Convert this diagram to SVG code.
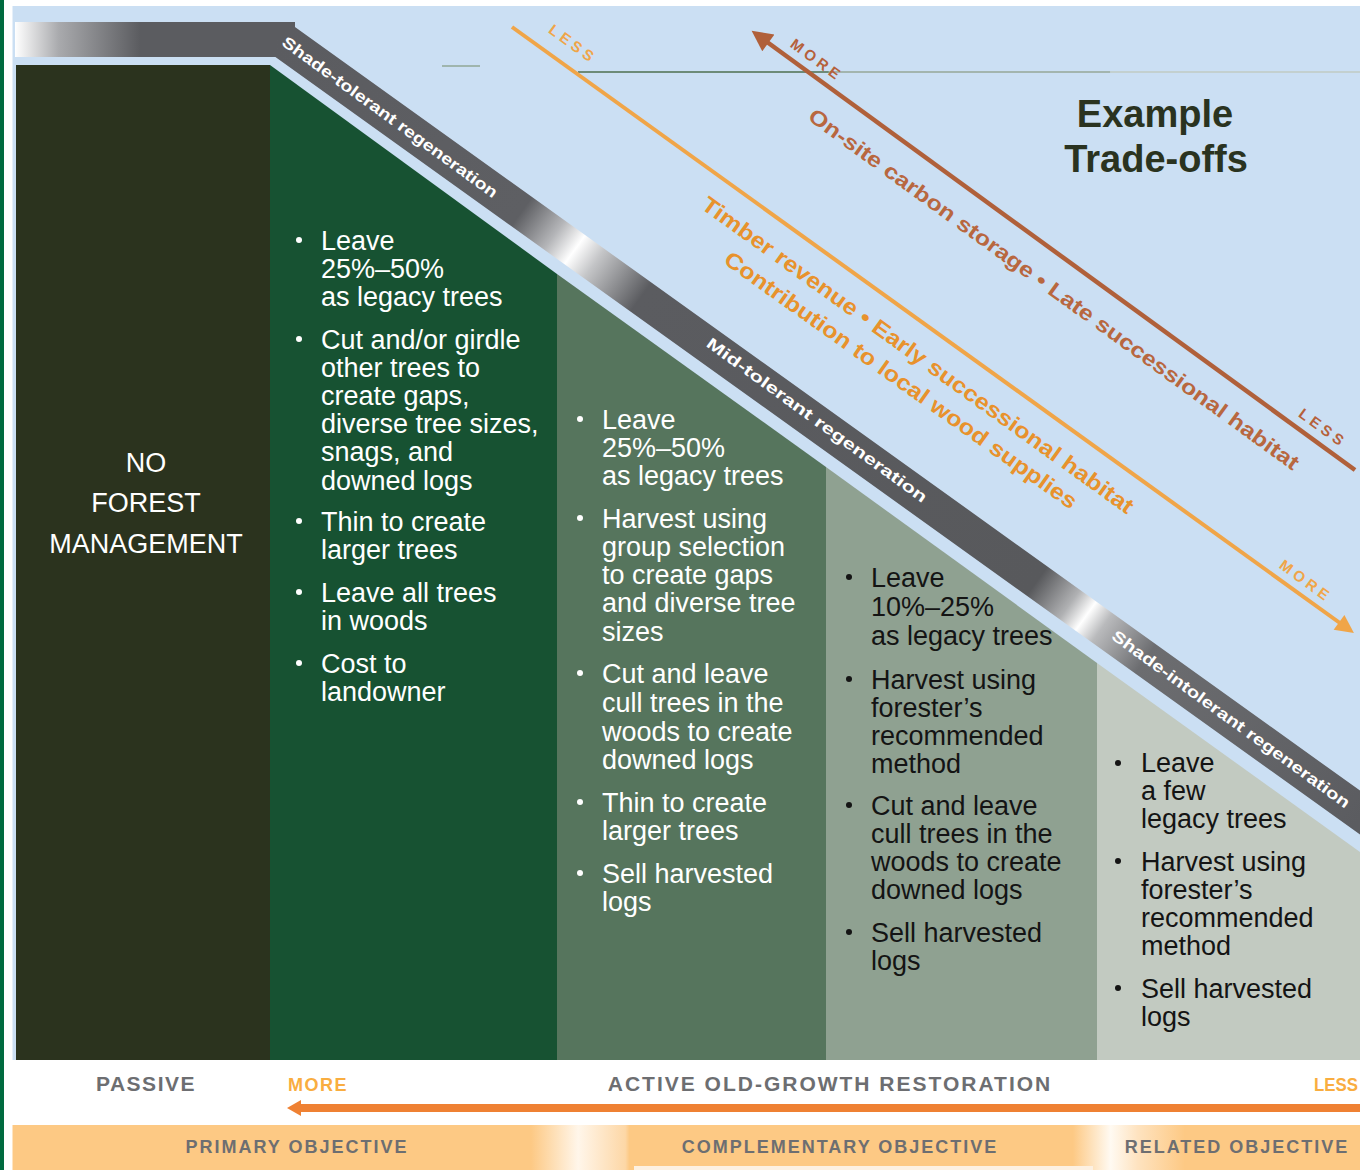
<svg xmlns="http://www.w3.org/2000/svg" width="1360" height="1170" viewBox="0 0 1360 1170">
  <defs>
    <linearGradient id="hgrad" gradientUnits="userSpaceOnUse" x1="15" y1="0" x2="140" y2="0">
      <stop offset="0" stop-color="#ffffff"/>
      <stop offset="0.35" stop-color="#a9aaad"/>
      <stop offset="1" stop-color="#5b5c60"/>
    </linearGradient>
    <linearGradient id="dgrad" gradientUnits="userSpaceOnUse" x1="275" y1="40" x2="1360" y2="818">
      <stop offset="0" stop-color="#5b5c60"/>
      <stop offset="0.225" stop-color="#5e5f63"/>
      <stop offset="0.255" stop-color="#b4b5b8"/>
      <stop offset="0.274" stop-color="#ffffff"/>
      <stop offset="0.292" stop-color="#c4c5c7"/>
      <stop offset="0.335" stop-color="#5b5c60"/>
      <stop offset="0.70" stop-color="#58595c"/>
      <stop offset="0.73" stop-color="#b0b1b3"/>
      <stop offset="0.745" stop-color="#ffffff"/>
      <stop offset="0.76" stop-color="#b9babc"/>
      <stop offset="0.80" stop-color="#6c6d70"/>
      <stop offset="1" stop-color="#5b5c60"/>
    </linearGradient>
    <linearGradient id="pgrad" gradientUnits="userSpaceOnUse" x1="12" y1="0" x2="1360" y2="0">
      <stop offset="0" stop-color="#fdc984"/>
      <stop offset="0.385" stop-color="#fdc984"/>
      <stop offset="0.42" stop-color="#fff6ea"/>
      <stop offset="0.455" stop-color="#fdd7a6"/>
      <stop offset="0.458" stop-color="#fdc984"/>
      <stop offset="0.787" stop-color="#fdc984"/>
      <stop offset="0.815" stop-color="#fffaf2"/>
      <stop offset="0.835" stop-color="#fee3c0"/>
      <stop offset="0.87" stop-color="#fdc984"/>
      <stop offset="1" stop-color="#fdc984"/>
    </linearGradient>
    <linearGradient id="lgrad" gradientUnits="userSpaceOnUse" x1="578" y1="0" x2="1360" y2="0">
      <stop offset="0" stop-color="#6d8b78"/>
      <stop offset="0.32" stop-color="#6d8b78"/>
      <stop offset="0.321" stop-color="#a3b5ae"/>
      <stop offset="0.68" stop-color="#a3b5ae"/>
      <stop offset="0.681" stop-color="#c3d0cf"/>
      <stop offset="1" stop-color="#c3d0cf"/>
    </linearGradient>
    <marker id="brownHead" viewBox="0 0 10 10" refX="2" refY="5" markerWidth="5.4" markerHeight="4.6" orient="auto" markerUnits="strokeWidth">
      <path d="M0,0 L10,5 L0,10 z" fill="#b0603a"/>
    </marker>
    <marker id="orangeHead" viewBox="0 0 10 10" refX="2" refY="5" markerWidth="5.2" markerHeight="4.6" orient="auto" markerUnits="strokeWidth">
      <path d="M0,0 L10,5 L0,10 z" fill="#f0a548"/>
    </marker>
  </defs>
  <style>
    .body { font-family: 'Liberation Sans', Arial, sans-serif; font-size: 27px; }
    .w { fill: #ffffff; }
    .k { fill: #141414; }
    .band { font-family: 'Liberation Sans', Arial, sans-serif; font-size: 16px; font-weight: bold; fill: #ffffff; }
    .cap { font-family: 'Liberation Sans', Arial, sans-serif; font-weight: bold; fill: #6d6e71; }
    .capo { font-family: 'Liberation Sans', Arial, sans-serif; font-weight: bold; fill: #f9ad40; }
    .tag { font-family: 'Liberation Sans', Arial, sans-serif; font-weight: bold; font-size: 15px; letter-spacing: 4px; }
    .diag { font-family: 'Liberation Sans', Arial, sans-serif; font-weight: bold; }
  </style>

  <!-- background -->
  <rect x="0" y="0" width="1360" height="1170" fill="#ffffff"/>
  <rect x="0" y="0" width="4" height="1170" fill="#006b3f"/>
  <rect x="12.5" y="6" width="1347.5" height="1054" fill="#cbdff3"/>

  <!-- columns -->
  <g id="col1">
    <rect x="16" y="65" width="254" height="995" fill="#2b331e"/>
    <text class="body w" x="146" y="472" text-anchor="middle" font-size="26">NO</text>
    <text class="body w" x="146" y="512" text-anchor="middle" font-size="26">FOREST</text>
    <text class="body w" x="146" y="553" text-anchor="middle" font-size="26">MANAGEMENT</text>
  </g>
  <g id="col2">
    <polygon points="270,65 557,274 557,1060 270,1060" fill="#175232"/>
    <g fill="#ffffff">
      <circle cx="299" cy="240" r="3"/><circle cx="299" cy="339" r="3"/><circle cx="299" cy="521" r="3"/><circle cx="299" cy="592" r="3"/><circle cx="299" cy="663" r="3"/>
    </g>
    <text class="body w">
      <tspan x="321" y="250">Leave</tspan>
      <tspan x="321" y="278">25%–50%</tspan>
      <tspan x="321" y="306">as legacy trees</tspan>
      <tspan x="321" y="349">Cut and/or girdle</tspan>
      <tspan x="321" y="377">other trees to</tspan>
      <tspan x="321" y="405">create gaps,</tspan>
      <tspan x="321" y="433">diverse tree sizes,</tspan>
      <tspan x="321" y="461">snags, and</tspan>
      <tspan x="321" y="490">downed logs</tspan>
      <tspan x="321" y="531">Thin to create</tspan>
      <tspan x="321" y="559">larger trees</tspan>
      <tspan x="321" y="602">Leave all trees</tspan>
      <tspan x="321" y="630">in woods</tspan>
      <tspan x="321" y="673">Cost to</tspan>
      <tspan x="321" y="701">landowner</tspan>
    </text>
  </g>
  <g id="col3">
    <polygon points="557,274 826,467 826,1060 557,1060" fill="#56755d"/>
    <g fill="#ffffff">
      <circle cx="580" cy="419" r="3"/><circle cx="580" cy="518" r="3"/><circle cx="580" cy="673" r="3"/><circle cx="580" cy="802" r="3"/><circle cx="580" cy="873" r="3"/>
    </g>
    <text class="body w">
      <tspan x="602" y="429">Leave</tspan>
      <tspan x="602" y="457">25%–50%</tspan>
      <tspan x="602" y="485">as legacy trees</tspan>
      <tspan x="602" y="528">Harvest using</tspan>
      <tspan x="602" y="556">group selection</tspan>
      <tspan x="602" y="584">to create gaps</tspan>
      <tspan x="602" y="612">and diverse tree</tspan>
      <tspan x="602" y="641">sizes</tspan>
      <tspan x="602" y="683">Cut and leave</tspan>
      <tspan x="602" y="712">cull trees in the</tspan>
      <tspan x="602" y="741">woods to create</tspan>
      <tspan x="602" y="769">downed logs</tspan>
      <tspan x="602" y="812">Thin to create</tspan>
      <tspan x="602" y="840">larger trees</tspan>
      <tspan x="602" y="883">Sell harvested</tspan>
      <tspan x="602" y="911">logs</tspan>
    </text>
  </g>
  <g id="col4">
    <polygon points="826,467 1097,663 1097,1060 826,1060" fill="#8fa191"/>
    <g fill="#141414">
      <circle cx="849" cy="577" r="3"/><circle cx="849" cy="679" r="3"/><circle cx="849" cy="805" r="3"/><circle cx="849" cy="932" r="3"/>
    </g>
    <text class="body k">
      <tspan x="871" y="587">Leave</tspan>
      <tspan x="871" y="616">10%–25%</tspan>
      <tspan x="871" y="645">as legacy trees</tspan>
      <tspan x="871" y="689">Harvest using</tspan>
      <tspan x="871" y="717">forester’s</tspan>
      <tspan x="871" y="745">recommended</tspan>
      <tspan x="871" y="773">method</tspan>
      <tspan x="871" y="815">Cut and leave</tspan>
      <tspan x="871" y="843">cull trees in the</tspan>
      <tspan x="871" y="871">woods to create</tspan>
      <tspan x="871" y="899">downed logs</tspan>
      <tspan x="871" y="942">Sell harvested</tspan>
      <tspan x="871" y="970">logs</tspan>
    </text>
  </g>
  <g id="col5">
    <polygon points="1097,663 1360,852 1360,1060 1097,1060" fill="#c2cac1"/>
    <g fill="#141414">
      <circle cx="1118" cy="763" r="3"/><circle cx="1118" cy="861" r="3"/><circle cx="1118" cy="988" r="3"/>
    </g>
    <text class="body k">
      <tspan x="1141" y="772">Leave</tspan>
      <tspan x="1141" y="800">a few</tspan>
      <tspan x="1141" y="828">legacy trees</tspan>
      <tspan x="1141" y="871">Harvest using</tspan>
      <tspan x="1141" y="899">forester’s</tspan>
      <tspan x="1141" y="927">recommended</tspan>
      <tspan x="1141" y="955">method</tspan>
      <tspan x="1141" y="998">Sell harvested</tspan>
      <tspan x="1141" y="1026">logs</tspan>
    </text>
  </g>

  <!-- regeneration band -->
  <g id="band">
    <rect x="15" y="22" width="280" height="35" fill="url(#hgrad)"/>
    <polygon points="270,22 288,22 1360,790.6 1360,834.6 275.4,57 270,57" fill="url(#dgrad)"/>
    <text class="band" transform="translate(390,117) rotate(36)" text-anchor="middle" dy="0.35em" textLength="262" lengthAdjust="spacingAndGlyphs">Shade-tolerant regeneration</text>
    <text class="band" transform="translate(817,420) rotate(36)" text-anchor="middle" dy="0.35em" textLength="268" lengthAdjust="spacingAndGlyphs">Mid-tolerant regeneration</text>
    <text class="band" transform="translate(1231,719) rotate(36)" text-anchor="middle" dy="0.35em" textLength="290" lengthAdjust="spacingAndGlyphs">Shade-intolerant regeneration</text>
  </g>

  <!-- thin rules -->
  <g id="rules">
    <line x1="442" y1="66" x2="480" y2="66" stroke="#9fb5ad" stroke-width="2"/>
    <rect x="578" y="71" width="782" height="2" fill="url(#lgrad)"/>
  </g>

  <!-- title -->
  <g id="title">
    <text x="1155" y="127" text-anchor="middle" font-family="'Liberation Sans', Arial, sans-serif" font-weight="bold" font-size="38" fill="#2a3320">Example</text>
    <text x="1156" y="172" text-anchor="middle" font-family="'Liberation Sans', Arial, sans-serif" font-weight="bold" font-size="38" fill="#2a3320">Trade-offs</text>
  </g>

  <!-- trade-off arrows -->
  <g id="connectors">
    <line x1="1355" y1="470" x2="765" y2="40.5" stroke="#b0603a" stroke-width="4.5" marker-end="url(#brownHead)"/>
    <line x1="512" y1="27" x2="1342" y2="624.5" stroke="#f0a548" stroke-width="4" marker-end="url(#orangeHead)"/>
    <polygon points="287,1108 301,1100 301,1116" fill="#ef8133"/>
    <rect x="299" y="1104" width="1061" height="8" fill="#ef8133"/>
  </g>

  <g id="carbon-labels">
    <text class="tag" fill="#b5613b" transform="translate(817,60) rotate(36)" text-anchor="middle" dy="0.35em">MORE</text>
    <text class="tag" fill="#b5613b" transform="translate(1323,428) rotate(36)" text-anchor="middle" dy="0.35em">LESS</text>
    <text class="diag" fill="#b8673f" font-size="21" transform="translate(1054,289) rotate(35.9)" text-anchor="middle" dy="0.35em" textLength="600" lengthAdjust="spacingAndGlyphs">On-site carbon storage • Late successional habitat</text>
  </g>
  <g id="timber-labels">
    <text class="tag" fill="#f0a548" transform="translate(573,44) rotate(36)" text-anchor="middle" dy="0.35em">LESS</text>
    <text class="tag" fill="#f0a548" transform="translate(1306,581) rotate(36)" text-anchor="middle" dy="0.35em">MORE</text>
    <text class="diag" fill="#e8922c" font-size="22" transform="translate(918,355) rotate(35.7)" text-anchor="middle" dy="0.35em" textLength="526" lengthAdjust="spacingAndGlyphs">Timber revenue • Early successional habitat</text>
    <text class="diag" fill="#e8922c" font-size="22" transform="translate(901,380) rotate(35.4)" text-anchor="middle" dy="0.35em" textLength="427" lengthAdjust="spacingAndGlyphs">Contribution to local wood supplies</text>
  </g>

  <!-- bottom scale -->
  <g id="scale">
    <text class="cap" x="146" y="1091" text-anchor="middle" font-size="21" letter-spacing="1.5">PASSIVE</text>
    <text class="capo" x="288" y="1091" font-size="18" letter-spacing="1.5">MORE</text>
    <text class="cap" x="830" y="1091" text-anchor="middle" font-size="21" letter-spacing="2">ACTIVE OLD-GROWTH RESTORATION</text>
    <text class="capo" x="1314" y="1091" font-size="18" textLength="44" lengthAdjust="spacingAndGlyphs">LESS</text>
  </g>

  <g id="objectives">
    <rect x="12.5" y="1125" width="1347.5" height="45" fill="url(#pgrad)"/>
    <rect x="634" y="1166" width="459" height="4" fill="#fdf1e2"/>
    <text class="cap" x="297" y="1153" text-anchor="middle" font-size="18" letter-spacing="2">PRIMARY OBJECTIVE</text>
    <text class="cap" x="840" y="1153" text-anchor="middle" font-size="18" letter-spacing="2">COMPLEMENTARY OBJECTIVE</text>
    <text class="cap" x="1237" y="1153" text-anchor="middle" font-size="18" letter-spacing="2">RELATED OBJECTIVE</text>
  </g>
</svg>
